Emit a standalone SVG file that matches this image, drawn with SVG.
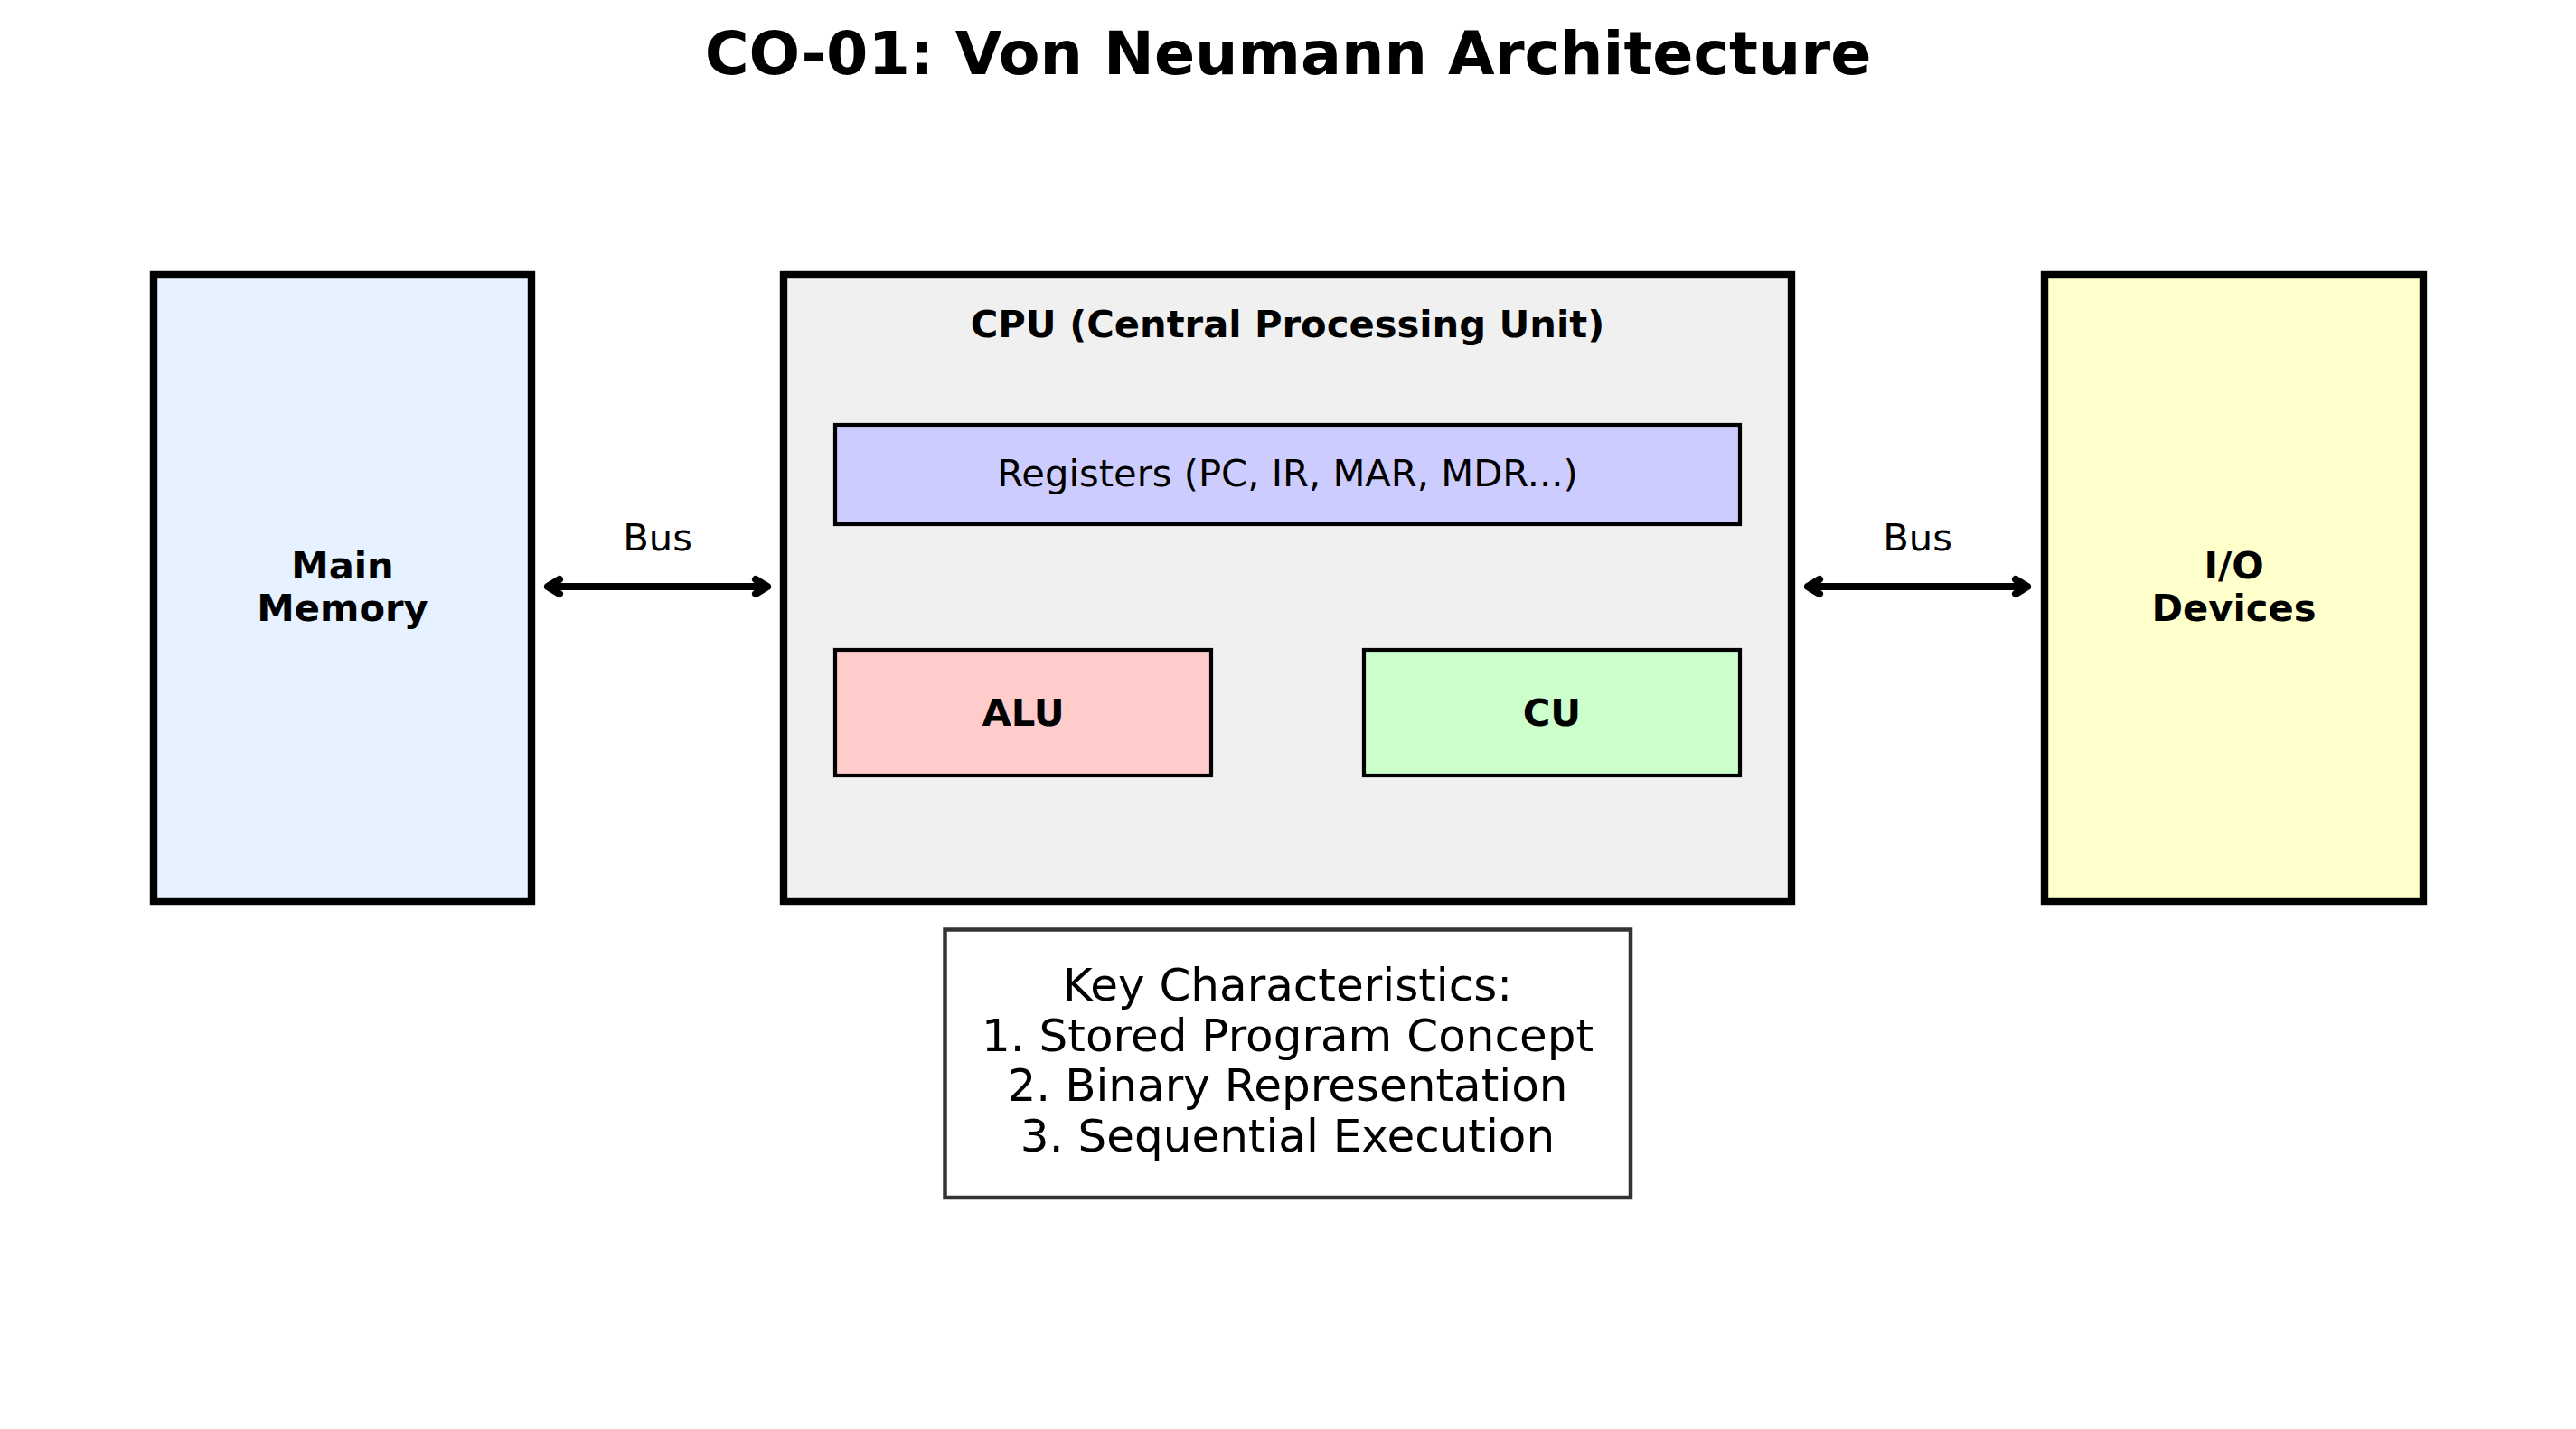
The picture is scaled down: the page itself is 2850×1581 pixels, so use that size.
<svg xmlns="http://www.w3.org/2000/svg" width="2850" height="1581" viewBox="0 0 2850 1581">
<style>
text { font-family: "DejaVu Sans", "Liberation Sans", sans-serif; fill: #000; text-anchor: middle; }
.title { font-size: 66.67px; font-weight: bold; }
.b { font-size: 41.67px; font-weight: bold; }
.r { font-size: 41.67px; }
.k { font-size: 50px; }
.big { stroke: #000; stroke-width: 8.4; }
.sub { stroke: #000; stroke-width: 4.2; }
.conn { stroke: #000; stroke-width: 8; fill: none; stroke-linecap: round; stroke-linejoin: round; }
</style>
<rect width="2850" height="1581" fill="#fff"/>
<text class="title" x="1425" y="82">CO-01: Von Neumann Architecture</text>

<g id="main-memory">
<rect class="big" x="170" y="304" width="418" height="693" fill="#E6F2FF"/>
<text class="b" x="379" y="640">Main</text>
<text class="b" x="379" y="687">Memory</text>
</g>

<g id="cpu">
<rect class="big" x="867" y="304" width="1115" height="693" fill="#F0F0F0"/>
<text class="b" x="1424.5" y="373">CPU (Central Processing Unit)</text>
</g>

<g id="registers">
<rect class="sub" x="924" y="470" width="1001" height="110" fill="#CCCCFF"/>
<text class="r" x="1424.5" y="538">Registers (PC, IR, MAR, MDR...)</text>
</g>

<g id="alu">
<rect class="sub" x="924" y="719" width="416" height="139" fill="#FFCCCC"/>
<text class="b" x="1132" y="803">ALU</text>
</g>

<g id="cu">
<rect class="sub" x="1509" y="719" width="416" height="139" fill="#CCFFCC"/>
<text class="b" x="1717" y="803">CU</text>
</g>

<g id="io-devices">
<rect class="big" x="2262" y="304" width="419" height="693" fill="#FFFFCC"/>
<text class="b" x="2471.5" y="640">I/O</text>
<text class="b" x="2471.5" y="687">Devices</text>
</g>

<g id="connectors">
<path class="conn" d="M606 649 H849 M619 641 L606 649 L619 657 M836 641 L849 649 L836 657"/>
<text class="r" x="727.5" y="609">Bus</text>
<path class="conn" d="M2000 649 H2243 M2013 641 L2000 649 L2013 657 M2230 641 L2243 649 L2230 657"/>
<text class="r" x="2121.5" y="609">Bus</text>
</g>

<g id="key-characteristics">
<rect x="1045.5" y="1028.5" width="758.5" height="296.5" fill="#fff" stroke="#333" stroke-width="4.5"/>
<text class="k" x="1424.5" y="1107">Key Characteristics:</text>
<text class="k" x="1424.5" y="1162.5">1. Stored Program Concept</text>
<text class="k" x="1424.5" y="1218">2. Binary Representation</text>
<text class="k" x="1424.5" y="1273.5">3. Sequential Execution</text>
</g>
</svg>
